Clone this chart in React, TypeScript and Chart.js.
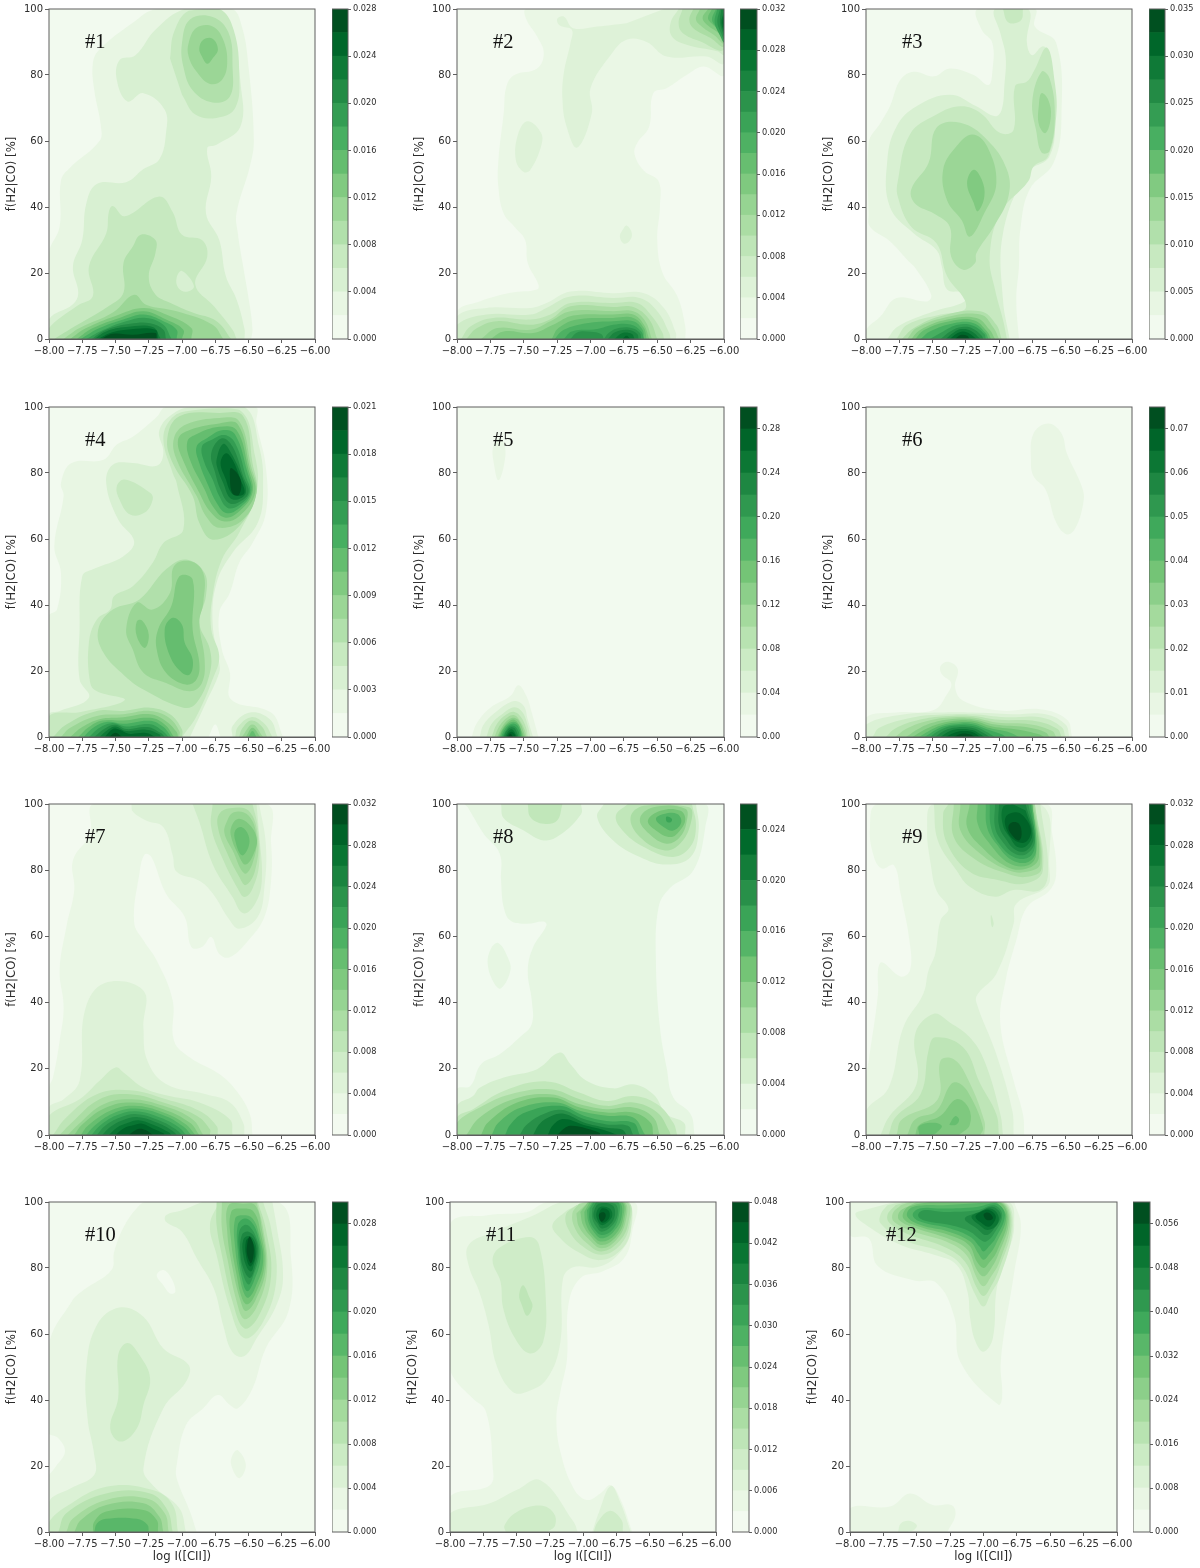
import React, { useEffect, useRef } from "react";
import { Chart, LineController, LineElement, PointElement, LinearScale, CategoryScale, BarController, BarElement } from "chart.js";

Chart.register(LineController, LineElement, PointElement, LinearScale, CategoryScale, BarController, BarElement);

const xTicks = [-8, -7.75, -7.5, -7.25, -7, -6.75, -6.5, -6.25, -6];
const yTicks = [0, 20, 40, 60, 80, 100];
const panelTitles = ["#1", "#2", "#3", "#4", "#5", "#6", "#7", "#8", "#9", "#10", "#11", "#12"];
const topLevels = [0.028, 0.032, 0.035, 0.021, 0.3, 0.075, 0.032, 0.026, 0.032, 0.03, 0.048, 0.06];
const bandCounts = [14, 16, 14, 14, 15, 15, 16, 13, 16, 15, 16, 15];
const barTicks = [
  [0, 0.004, 0.008, 0.012, 0.016, 0.02, 0.024, 0.028],
  [0, 0.004, 0.008, 0.012, 0.016, 0.02, 0.024, 0.028, 0.032],
  [0, 0.005, 0.01, 0.015, 0.02, 0.025, 0.03, 0.035],
  [0, 0.003, 0.006, 0.009, 0.012, 0.015, 0.018, 0.021],
  [0, 0.04, 0.08, 0.12, 0.16, 0.2, 0.24, 0.28],
  [0, 0.01, 0.02, 0.03, 0.04, 0.05, 0.06, 0.07],
  [0, 0.004, 0.008, 0.012, 0.016, 0.02, 0.024, 0.028, 0.032],
  [0, 0.004, 0.008, 0.012, 0.016, 0.02, 0.024],
  [0, 0.004, 0.008, 0.012, 0.016, 0.02, 0.024, 0.028, 0.032],
  [0, 0.004, 0.008, 0.012, 0.016, 0.02, 0.024, 0.028],
  [0, 0.006, 0.012, 0.018, 0.024, 0.03, 0.036, 0.042, 0.048],
  [0, 0.008, 0.016, 0.024, 0.032, 0.04, 0.048, 0.056],
];
const barDecimals = [3, 3, 3, 3, 2, 2, 3, 3, 3, 3, 3, 3];
const greens = ["#f7fcf5", "#e5f5e0", "#c7e9c0", "#a1d99b", "#74c476", "#41ab5d", "#238b45", "#006d2c", "#00441b"];

// Each contour: [band, x, y, x, y, ...]; x in log I, y in %. Later entries paint over earlier ones.
const contours1 = [
  [1,-8,0,-8,26,-7.92,34,-7.91,48,-7.84,52,-7.62,60,-7.61,64.5,-7.66,75.5,-7.67,83.6,-7.62,87.7,-7.37,95.8,-7.19,100,-6.63,100,-6.55,94.7,-6.5,82.6,-6.46,60.4,-6.49,52.3,-6.59,38.2,-6.58,32,-6.54,22,-6.49,10,-6.47,2.8,-6.48,0],
  [2,-8,0,-8,6,-7.82,10.5,-7.78,14,-7.82,22,-7.75,30,-7.72,41,-7.64,47,-7.42,47.5,-7.29,51.5,-7.17,54.5,-7.12,62.5,-7.13,69.5,-7.29,74.5,-7.41,72,-7.49,78.5,-7.47,84.5,-7.35,86,-7.2,93.7,-6.98,100,-6.72,100,-6.62,92.8,-6.56,77.6,-6.56,64.5,-6.74,58.9,-6.81,57.9,-6.78,49.3,-6.82,38.2,-6.72,30,-6.67,19,-6.59,12,-6.53,3,-6.53,0],
  [3,-8,0,-8,3.3,-7.79,10,-7.67,13,-7.7,22,-7.57,32,-7.55,38.5,-7.52,40.3,-7.43,37.2,-7.17,43.2,-7.07,38.5,-7,31.6,-6.85,30,-6.81,25,-6.9,16.5,-6.76,9.9,-6.62,2.8,-6.59,0],
  [2,-7,20.6,-6.91,16,-6.97,14.3,-7.03,15.6,-7.04,18.6],
  [3,-7.09,85,-7.06,93,-6.95,99.5,-6.72,100,-6.61,93.5,-6.57,80,-6.6,70,-6.74,67,-6.9,68,-7,74],
  [4,-7,89.7,-6.94,96.8,-6.77,97.6,-6.65,92.8,-6.62,82.6,-6.64,73.5,-6.77,71.7,-6.92,75.4,-6.99,82.6],
  [4,-7.96,0,-7.84,3,-7.55,10,-7.44,14,-7.44,23,-7.37,28,-7.31,31.6,-7.2,30,-7.2,26,-7.25,19,-7.2,13.5,-7.09,11,-6.92,8,-6.74,5.4,-6.63,0],
  [5,-6.95,89.7,-6.89,94.3,-6.77,94.7,-6.69,90.7,-6.66,83.6,-6.7,78.5,-6.79,77.3,-6.89,81,-6.95,85.6],
  [5,-7.89,0,-7.77,3.3,-7.52,8,-7.36,13.4,-7.27,10.4,-7.04,8.4,-6.77,4.3,-6.69,0],
  [6,-6.87,88,-6.84,90.7,-6.77,91,-6.73,87.7,-6.77,85,-6.81,83.4,-6.85,85.6],
  [6,-7.84,0,-7.72,3.3,-7.5,7,-7.29,9.4,-7.12,7.4,-6.93,3.3,-6.93,0],
  [7,-7.79,0,-7.67,3.3,-7.47,6.4,-7.29,8.4,-7.12,5.9,-6.99,2.8,-7,0],
  [8,-7.76,0,-7.62,3.3,-7.44,5.9,-7.29,7.4,-7.14,5.4,-7.04,2.8,-7.04,0],
  [9,-7.72,0,-7.59,2.8,-7.42,5.4,-7.27,6.4,-7.14,4.3,-7.08,0],
  [10,-7.68,0,-7.57,2.8,-7.39,4.6,-7.24,4.8,-7.14,2.8,-7.12,0],
  [11,-7.66,0,-7.57,2.3,-7.42,3.6,-7.22,3.6,-7.16,0],
  [12,-7.63,0,-7.54,1.8,-7.42,2.8,-7.2,2.8,-7.18,0],
  [13,-7.61,0,-7.52,1.6,-7.37,1.3,-7.2,1.8,-7.19,0],
];
const contours2 = [
  [1,-8,0,-8,8.4,-7.83,11.4,-7.6,14,-7.4,15,-7.39,16.5,-7.47,23,-7.49,30,-7.57,34,-7.65,38,-7.69,46,-7.69,54,-7.65,68.5,-7.63,76.5,-7.57,80,-7.4,82,-7.35,86.7,-7.4,91.7,-7.48,96.8,-7.48,100,-6,100,-6,80,-6.15,82.6,-6.28,80,-6.43,76,-6.53,74.5,-6.56,64.4,-6.65,59.4,-6.67,56,-6.6,51,-6.49,47.8,-6.48,40,-6.5,30,-6.46,20,-6.35,13,-6.29,3.8,-6.29,0],
  [2,-6.45,100,-6,100,-6,83.6,-6.13,85.6,-6.43,85.6,-6.58,90,-6.73,90.7,-6.85,86,-7,76,-6.99,68.5,-7.1,58,-7.18,64.5,-7.21,72.5,-7.2,80.6,-7.15,89.7,-7.14,93.7,-7.23,95,-7.25,97,-7.2,97.7,-7.13,94.2,-6.95,94.7,-6.73,95.7],
  [2,-7.47,66,-7.37,62.4,-7.37,58.4,-7.45,51.3,-7.5,50.6,-7.56,54.3,-7.54,62.4],
  [2,-6.73,34.4,-6.69,32,-6.71,29.6,-6.75,28.9,-6.78,31,-6.76,33],
  [2,-8,0,-8,6.9,-7.78,9.4,-7.45,9.4,-7.33,10.9,-7.15,14.4,-6.83,13.9,-6.6,13.9,-6.45,9.4,-6.36,1.8,-6.36,0],
  [3,-8,0,-8,4.3,-7.78,7.4,-7.45,7.4,-7.33,9.4,-7.15,12.9,-6.83,12.4,-6.63,12.4,-6.5,8.4,-6.41,1.8,-6.4,0],
  [3,-6.34,100,-6.4,95.8,-6.39,91.7,-6.28,89.2,-6.05,87.2,-6,86.2,-6,100],
  [4,-6.31,100,-6.34,95.8,-6.31,92.7,-6.18,90.2,-6,87.7,-6,100],
  [5,-6.23,100,-6.26,96.8,-6.23,94.2,-6.1,91.2,-6,88.7,-6,100],
  [6,-6.18,100,-6.21,96.8,-6.16,94.5,-6.07,92,-6,89.7,-6,100],
  [7,-6.12,100,-6.16,97.3,-6.12,95,-6.04,92.7,-6,90.7,-6,100],
  [8,-6.09,100,-6.12,97.3,-6.09,95.5,-6.03,93.2,-6,91.7,-6,100],
  [9,-6.06,100,-6.09,96.8,-6.06,94.7,-6,92.7,-6,100],
  [10,-6.05,100,-6.07,96,-6.03,92,-6,90,-6,100],
  [11,-6.03,100,-6.05,96,-6.02,92.5,-6,91,-6,100],
  [12,-6.02,100,-6.03,96,-6.01,93,-6,92,-6,100],
  [13,-6,99,-6.02,96,-6,93],
  [14,-6,98,-6.01,96,-6,94],
  [4,-7.97,0,-7.9,3.8,-7.73,6.4,-7.45,5.9,-7.3,7.4,-7.15,10.9,-6.83,10.9,-6.65,10.9,-6.54,6.9,-6.46,1.8,-6.45,0],
  [5,-7.93,0,-7.85,3.3,-7.7,5.4,-7.45,4.3,-7.3,6,-7.15,9.9,-6.83,9.7,-6.68,9.7,-6.56,5.9,-6.5,0],
  [6,-7.82,0,-7.7,3.3,-7.45,2.8,-7.3,5.4,-7.15,8.4,-6.83,8.4,-6.68,8.4,-6.59,5.4,-6.54,0],
  [7,-7.75,0,-7.65,2.3,-7.43,1.8,-7.28,4.3,-7.13,7.1,-6.83,7.4,-6.68,7.4,-6.6,4.3,-6.56,0],
  [8,-7.29,0,-7.24,3.3,-7.1,5.9,-6.83,6.4,-6.68,6.4,-6.6,3.3,-6.58,0],
  [9,-7.27,0,-7.2,2.8,-7.03,4.8,-6.83,5.4,-6.68,5.4,-6.61,2.8,-6.6,0],
  [10,-7.2,0,-7.14,2.3,-6.95,3,-6.83,4.3,-6.7,4.4,-6.62,2.3,-6.6,0],
  [11,-6.9,0,-6.86,2,-6.78,3.4,-6.68,3.2,-6.63,1.8,-6.62,0],
  [11,-7.15,0,-7.1,2,-7,2.2,-6.92,1.5,-6.9,0],
  [12,-6.87,0,-6.82,2,-6.72,2.8,-6.65,1.5,-6.64,0],
  [13,-6.82,0,-6.76,1.8,-6.69,1.5,-6.67,0],
  [14,-6.76,0,-6.73,1,-6.7,0],
];
const contours3 = [
  [1,-8,0,-8,2.8,-7.89,6.9,-7.77,12.4,-7.54,11.4,-7.51,13.4,-7.62,21,-7.69,24,-7.82,29.6,-7.97,34,-7.98,38,-7.98,59.4,-7.89,65.5,-7.82,70.5,-7.74,78.6,-7.64,81,-7.49,79.6,-7.37,82,-7.19,80,-7.08,77,-7.05,81,-7.05,89.7,-7.13,93.7,-7.16,100,-6.73,100,-6.73,94.7,-6.57,89.7,-6.53,67.5,-6.59,53.3,-6.77,45.3,-6.84,33,-6.85,22,-6.87,12,-6.85,0],
  [2,-7.84,0,-7.76,3.8,-7.49,8.4,-7.26,11.4,-7.27,14,-7.39,15,-7.43,22,-7.47,27,-7.64,32,-7.82,40,-7.84,54,-7.77,64.4,-7.62,70.5,-7.37,74,-7.17,70.5,-7.03,67.5,-6.98,69.5,-6.96,76.6,-6.95,85.6,-6.99,92.7,-7.03,100,-6.78,100,-6.79,89.7,-6.75,86,-6.67,88.7,-6.62,86,-6.58,67.5,-6.62,55.4,-6.79,50.3,-6.97,32,-6.97,12,-6.92,0],
  [3,-7.77,0,-7.69,4.3,-7.44,7.4,-7.26,8.9,-7.26,12,-7.39,19,-7.47,29,-7.66,34,-7.76,43,-7.76,48,-7.67,62,-7.47,68,-7.29,70.5,-7.14,68.5,-6.99,62.4,-6.89,63.4,-6.88,76.5,-6.79,78,-6.74,81,-6.64,88.3,-6.58,77.6,-6.57,67.5,-6.63,55.4,-6.74,52.3,-6.78,47.8,-6.99,38.2,-7.07,25,-7.03,15,-6.97,5.8,-6.94,0],
  [3,-6.97,100,-6.94,96.3,-6.89,95.6,-6.83,96.8,-6.82,100],
  [4,-7.66,45.3,-7.53,53.3,-7.47,64,-7.29,65.5,-7.09,60.4,-6.94,51.3,-6.93,43,-7.04,34,-7.17,26,-7.18,23,-7.27,21,-7.36,25,-7.37,34,-7.49,38,-7.63,41],
  [4,-6.68,81,-6.62,79,-6.58,68,-6.62,57,-6.68,56.5,-6.72,63,-6.75,72],
  [4,-7.73,0,-7.64,3.3,-7.44,6.9,-7.14,8.4,-7.02,4.3,-6.98,0],
  [5,-7.42,51.3,-7.32,58.4,-7.2,62,-7.09,58.4,-7.02,47.3,-7.11,38.2,-7.22,31,-7.28,36,-7.39,42],
  [5,-6.68,74.5,-6.63,72.5,-6.61,67.5,-6.65,62.4,-6.7,65,-6.7,71],
  [6,-7.19,51.3,-7.13,48.3,-7.11,43.2,-7.16,38.7,-7.19,41.2,-7.24,47.3],
  [5,-7.69,0,-7.62,3.3,-7.42,6.4,-7.14,7.4,-7.04,3.3,-7,0],
  [6,-7.66,0,-7.59,2.8,-7.39,5.9,-7.17,6.4,-7.07,2.8,-7.03,0],
  [7,-7.63,0,-7.56,2.8,-7.37,5.4,-7.19,5.7,-7.09,2.3,-7.06,0],
  [8,-7.59,0,-7.52,2.3,-7.34,4.8,-7.19,4.8,-7.1,1.8,-7.08,0],
  [9,-7.52,0,-7.42,2.3,-7.31,4.3,-7.2,4.1,-7.11,1.5,-7.1,0],
  [10,-7.44,0,-7.36,2.4,-7.28,3.6,-7.2,3.2,-7.13,1,-7.12,0],
  [11,-7.4,0,-7.34,2,-7.28,3,-7.21,2.4,-7.14,0],
  [12,-7.37,0,-7.32,1.6,-7.27,2.3,-7.22,1.6,-7.17,0],
  [13,-7.33,0,-7.29,1.2,-7.24,1,-7.22,0],
];
const contours4 = [
  [1,-8,0,-8,36.6,-7.94,38.6,-7.91,49.7,-7.96,57.8,-7.89,73,-7.91,77,-7.83,83,-7.59,84,-7.49,88.6,-7.37,91,-7.19,97,-7.12,100,-6.45,100,-6.44,95,-6.37,82,-6.37,67.9,-6.47,58.8,-6.57,52.8,-6.64,43.7,-6.72,37.6,-6.7,26.5,-6.64,19.5,-6.63,11.4,-6.33,7.4,-6.24,0],
  [0,-6.8,0,-6.75,3.8,-6.71,0],
  [2,-8,0,-8,6.9,-7.92,7.9,-7.7,11.9,-7.77,17.5,-7.77,32.6,-7.75,48.7,-7.67,50.8,-7.44,54.8,-7.36,59.3,-7.48,65.9,-7.57,77,-7.52,82.5,-7.37,83,-7.19,82.2,-7.14,86,-7.17,93,-7.04,98.7,-6.89,100,-6.53,100,-6.42,88,-6.39,77,-6.43,64.9,-6.62,55.8,-6.74,46.7,-6.77,34.6,-6.72,22.5,-6.72,19.5,-6.82,10.4,-6.94,0],
  [2,-6.62,0,-6.62,3.3,-6.49,7.4,-6.34,5.4,-6.28,0],
  [3,-7.49,76,-7.43,78,-7.24,74,-7.22,72,-7.28,68,-7.39,67.4,-7.47,72],
  [3,-8,0,-8,6.4,-7.76,7.6,-7.43,11.2,-7.64,13.9,-7.69,16.4,-7.7,28.6,-7.64,35.6,-7.54,38.6,-7.51,42.7,-7.37,45.7,-7.22,52.8,-7.14,58.8,-6.99,62.9,-7.04,77,-7.07,80,-7.14,90,-7.09,96,-6.97,98.7,-6.57,99.2,-6.45,85,-6.44,74,-6.57,61.9,-6.7,53.8,-6.77,42.7,-6.78,32.6,-6.72,24.5,-6.77,17.5,-6.89,6.4,-7,0],
  [3,-6.6,0,-6.58,3,-6.48,6,-6.38,4,-6.32,0],
  [4,-7.63,32.6,-7.52,38.6,-7.32,41.7,-7.12,50.8,-6.97,53.8,-6.83,49.7,-6.82,42.7,-6.87,34.6,-6.79,26.5,-6.79,19.5,-6.89,10.4,-6.99,8.9,-7.29,14.4,-7.43,18.5,-7.59,25.5],
  [4,-7.11,90.6,-7.02,97.2,-6.72,98.2,-6.54,97.2,-6.47,83,-6.44,74,-6.57,63.9,-6.77,59.8,-6.87,64.9,-6.92,73,-7.07,83],
  [5,-7.42,32.6,-7.34,40.7,-7.22,38.6,-7.09,43.7,-7.06,51.8,-6.94,53.3,-6.84,49.7,-6.84,40.7,-6.87,34.6,-6.83,23.5,-6.85,16.4,-6.94,13.9,-7.12,16.4,-7.29,19.5,-7.37,26.5],
  [6,-7.18,32.6,-7.08,39.7,-7.02,48.7,-6.92,47.7,-6.92,32.6,-6.87,22.5,-6.89,17.5,-6.97,15.9,-7.12,19.5,-7.19,26.5],
  [6,-7.34,35,-7.3,35.3,-7.25,31,-7.28,27,-7.34,30.5],
  [7,-7.13,32.6,-7.07,36.1,-7,34,-6.98,28.6,-6.92,23.5,-6.94,19,-7,19.5,-7.09,24.5],
  [5,-7.06,90.6,-6.97,94.7,-6.72,96.7,-6.57,95.7,-6.48,82,-6.44,74,-6.54,65.9,-6.72,63.4,-6.82,66.9,-6.89,73,-7.04,84],
  [6,-7.03,90,-6.97,92.6,-6.72,95,-6.58,94.7,-6.49,81.5,-6.45,74,-6.57,66.9,-6.69,65.4,-6.79,68.4,-6.87,74,-7,84.6],
  [7,-6.96,89.5,-6.9,91.6,-6.72,94,-6.59,93,-6.5,81,-6.47,74,-6.58,68,-6.68,66.5,-6.77,70,-6.83,75,-6.94,84],
  [8,-6.89,88,-6.81,90.6,-6.69,93,-6.6,91.6,-6.51,80.5,-6.48,74,-6.58,69,-6.67,67.9,-6.74,71,-6.8,76,-6.87,83],
  [9,-6.85,88,-6.78,90,-6.68,91.5,-6.6,89,-6.52,79,-6.49,74,-6.58,70,-6.66,69.5,-6.72,73,-6.77,78,-6.83,83],
  [10,-6.78,86,-6.7,90.5,-6.62,88,-6.54,79,-6.5,74,-6.58,71,-6.65,71,-6.71,75,-6.75,80],
  [11,-6.74,84,-6.69,88.8,-6.63,86,-6.55,79,-6.52,74,-6.58,72,-6.64,72.5,-6.69,77,-6.73,81],
  [12,-6.71,83,-6.67,86,-6.62,84,-6.56,78,-6.53,74,-6.58,73,-6.63,74,-6.67,78],
  [13,-6.63,81.5,-6.56,78,-6.57,73.5,-6.62,73.8,-6.64,79],
  [4,-7.97,0,-7.87,3.8,-7.64,7.9,-7.44,7.9,-7.24,8.9,-7.09,6.9,-7,2.3,-7,0],
  [5,-7.91,0,-7.84,2.8,-7.64,6.4,-7.44,6.9,-7.24,7.9,-7.1,5.9,-7.02,1.8,-7.02,0],
  [6,-7.84,0,-7.75,3,-7.62,5.4,-7.44,6,-7.24,6.9,-7.12,4.8,-7.04,1.5,-7.03,0],
  [7,-7.78,0,-7.7,3,-7.6,5,-7.44,5,-7.24,5.8,-7.13,3.8,-7.06,0],
  [8,-7.74,0,-7.66,3,-7.56,4.6,-7.44,4,-7.24,4.9,-7.14,3,-7.08,0],
  [9,-7.7,0,-7.62,2.8,-7.53,4.2,-7.42,3.2,-7.24,3.9,-7.15,2,-7.1,0],
  [10,-7.66,0,-7.58,2.6,-7.5,3.7,-7.42,2.4,-7.26,3,-7.16,1.2,-7.13,0],
  [11,-7.62,0,-7.55,2.4,-7.5,3.2,-7.42,1.8,-7.27,2.2,-7.17,0.8,-7.16,0],
  [12,-7.58,0,-7.52,2.4,-7.47,2.2,-7.4,1,-7.27,1.2,-7.2,0],
  [13,-7.55,0,-7.5,1.3,-7.45,0],
  [4,-6.57,0,-6.55,2.4,-6.48,5,-6.4,3.2,-6.36,0],
  [5,-6.55,0,-6.47,3.8,-6.39,0],
  [6,-6.52,0,-6.47,2.8,-6.41,0],
  [7,-6.5,0,-6.47,1.8,-6.44,0],
];
const contours5 = [
  [1,-7.73,88,-7.72,82,-7.69,77.8,-7.65,82,-7.64,88,-7.68,90.5],
  [1,-7.89,0,-7.85,4.3,-7.75,8.9,-7.6,12.4,-7.54,15.7,-7.48,12.4,-7.44,7.4,-7.39,0],
  [2,-7.83,0,-7.8,3.8,-7.7,7.9,-7.57,10.9,-7.5,9.4,-7.47,5.3,-7.43,0],
  [3,-7.78,0,-7.74,4,-7.66,7,-7.57,9,-7.51,7.5,-7.47,3.5,-7.45,0],
  [4,-7.74,0,-7.7,4,-7.63,6.8,-7.57,7.6,-7.52,6,-7.48,2.5,-7.47,0],
  [5,-7.72,0,-7.68,3.5,-7.62,6,-7.57,6.6,-7.53,5,-7.49,1.8,-7.48,0],
  [6,-7.7,0,-7.66,3.2,-7.61,5.4,-7.57,5.8,-7.53,4.5,-7.5,1.5,-7.49,0],
  [7,-7.69,0,-7.65,3,-7.6,5,-7.57,5.2,-7.54,4,-7.51,1.2,-7.5,0],
  [8,-7.68,0,-7.65,2.6,-7.6,4.4,-7.56,4.5,-7.53,3,-7.51,0],
  [9,-7.67,0,-7.64,2.4,-7.6,3.9,-7.56,3.9,-7.53,2.2,-7.52,0],
  [10,-7.66,0,-7.63,2.2,-7.6,3.4,-7.57,3.3,-7.54,1.8,-7.53,0],
  [11,-7.65,0,-7.63,1.8,-7.6,2.9,-7.57,2.7,-7.55,1.2,-7.54,0],
  [12,-7.64,0,-7.62,1.5,-7.6,2.3,-7.58,2.1,-7.56,0.8,-7.55,0],
  [13,-7.63,0,-7.61,1.3,-7.59,1.6,-7.57,1,-7.56,0],
  [14,-7.62,0,-7.6,1,-7.58,0],
];
const contours6 = [
  [1,-6.63,95,-6.53,92,-6.49,86,-6.37,75,-6.37,70,-6.43,63,-6.49,61.4,-6.57,65,-6.65,75,-6.74,79,-6.76,84,-6.74,92],
  [1,-8,0,-8,5.9,-7.77,7.4,-7.49,8.2,-7.39,13,-7.36,16.4,-7.43,19,-7.44,21.5,-7.38,22.8,-7.31,20.5,-7.33,15,-7.27,11,-6.99,8,-6.69,8.4,-6.49,5.3,-6.45,0],
  [2,-8,0,-8,3.8,-7.72,6.8,-7.44,7.4,-7.2,7.4,-6.9,6.9,-6.65,6.9,-6.5,3.8,-6.47,0],
  [3,-7.95,0,-7.9,2.8,-7.65,5.9,-7.42,6.8,-7.2,6.9,-6.95,6,-6.68,5.9,-6.53,3,-6.5,0],
  [4,-7.85,0,-7.78,2.6,-7.6,5.2,-7.41,6.3,-7.2,6.4,-7,5.2,-6.72,4.8,-6.56,2.4,-6.53,0],
  [5,-7.78,0,-7.7,2.4,-7.56,4.6,-7.4,5.8,-7.2,5.9,-7.02,4.4,-6.76,3.8,-6.6,1.8,-6.57,0],
  [6,-7.7,0,-7.6,2.6,-7.5,4.3,-7.38,5.3,-7.2,5.4,-7.03,3.8,-6.8,3,-6.65,1.4,-6.62,0],
  [7,-7.65,0,-7.55,2.4,-7.45,4,-7.36,4.8,-7.2,4.9,-7.05,3.2,-6.85,2.2,-6.7,0.8,-6.66,0],
  [8,-7.6,0,-7.5,2.4,-7.42,3.7,-7.34,4.3,-7.2,4.4,-7.07,2.7,-6.92,1.4,-6.85,0],
  [9,-7.56,0,-7.47,2.3,-7.4,3.4,-7.32,3.9,-7.2,3.9,-7.08,2.2,-6.98,0.8,-6.95,0],
  [10,-7.52,0,-7.44,2.2,-7.34,3.4,-7.2,3.3,-7.1,1.7,-7.03,0],
  [11,-7.48,0,-7.41,2,-7.32,2.9,-7.2,2.7,-7.12,1.3,-7.07,0],
  [12,-7.44,0,-7.38,1.6,-7.3,2.4,-7.2,2.1,-7.14,0.8,-7.11,0],
  [13,-7.4,0,-7.34,1.2,-7.28,1.8,-7.2,1.5,-7.14,0],
  [14,-7.34,0,-7.28,1,-7.22,0.8,-7.18,0],
];
const contours7 = [
  [1,-8,0,-8,14.3,-7.97,17.4,-7.92,28.5,-7.89,38.6,-7.92,49.7,-7.87,62.8,-7.81,74,-7.82,83,-7.69,91,-7.66,100,-6.37,100,-6.33,88,-6.33,77,-6.38,65.9,-6.5,58.8,-6.64,53.7,-6.72,54.7,-6.78,59.8,-6.85,56.8,-6.93,56.8,-6.98,65.9,-7.12,72.9,-7.23,84,-7.28,84.8,-7.32,79,-7.36,64.3,-7.29,58.8,-7.19,52.7,-7.07,40.6,-7.06,28.5,-6.94,23.4,-6.72,18.4,-6.59,13.3,-6.49,6.3,-6.47,0],
  [2,-7.38,100,-7.37,97.7,-7.27,95,-7.14,93,-7.07,84.5,-7.04,79.5,-6.87,76.8,-6.77,73,-6.65,65.4,-6.57,62.3,-6.43,65.9,-6.38,75,-6.37,88,-6.42,100],
  [2,-8,0,-8,8.3,-7.89,10.8,-7.77,16.4,-7.73,37.6,-7.58,45.9,-7.29,43.6,-7.29,32.5,-7.26,22.4,-7.12,15.4,-6.82,12.3,-6.64,9.8,-6.54,3.7,-6.53,0],
  [3,-8,0,-8,5.8,-7.77,10.8,-7.62,16.4,-7.5,20.4,-7.44,18.9,-7.29,14.3,-7.12,12,-6.87,9.8,-6.64,4.7,-6.62,0],
  [3,-6.92,100,-6.87,94.6,-6.77,81.9,-6.62,71.9,-6.54,67,-6.45,69.9,-6.4,77,-6.42,91,-6.44,100],
  [4,-6.77,100,-6.78,93,-6.7,84,-6.58,74.4,-6.53,71.9,-6.47,74.4,-6.42,82,-6.43,93,-6.47,100],
  [4,-7.97,0,-7.87,5.3,-7.64,12.3,-7.39,13.5,-7.12,10.8,-6.87,7.3,-6.74,2.7,-6.73,0],
  [5,-6.72,97,-6.73,93,-6.67,86,-6.57,78,-6.52,75.5,-6.45,80,-6.43,90,-6.5,98,-6.64,98.7],
  [5,-7.92,0,-7.83,3.7,-7.62,10.8,-7.39,12.3,-7.14,9.8,-6.89,5.8,-6.79,1.7,-6.79,0],
  [6,-6.67,94,-6.68,91,-6.62,86,-6.53,79,-6.47,82,-6.44,90,-6.5,96.5,-6.61,97.5],
  [6,-7.86,0,-7.78,3.2,-7.59,9.3,-7.38,10.8,-7.14,8.8,-6.92,4.7,-6.84,0],
  [7,-6.63,93,-6.63,90,-6.58,85,-6.52,81.7,-6.45,86,-6.44,90,-6.5,94,-6.58,95.5],
  [7,-7.81,0,-7.75,3.2,-7.57,8.3,-7.37,9.8,-7.14,7.8,-6.94,3.7,-6.87,0],
  [8,-6.6,92,-6.6,89,-6.55,84.5,-6.5,87,-6.5,90.5,-6.55,93],
  [8,-7.76,0,-7.71,2.7,-7.54,7.3,-7.36,8.8,-7.14,6.8,-6.97,3.2,-6.9,0],
  [9,-7.72,0,-7.66,2.7,-7.52,6.5,-7.35,8,-7.14,6,-6.99,2.6,-6.93,0],
  [10,-7.68,0,-7.62,2.7,-7.5,5.8,-7.35,7.2,-7.16,5.2,-7.02,2.2,-6.97,0],
  [11,-7.64,0,-7.58,2.7,-7.47,5.2,-7.34,6.3,-7.17,4.4,-7.05,1.8,-7,0],
  [12,-7.6,0,-7.54,2.4,-7.45,4.4,-7.33,5.4,-7.18,3.6,-7.07,1.2,-7.04,0],
  [13,-7.55,0,-7.49,2.2,-7.41,3.6,-7.32,4.4,-7.2,2.8,-7.1,0.8,-7.08,0],
  [14,-7.5,0,-7.44,2,-7.36,3,-7.3,3.4,-7.22,2,-7.14,0.5,-7.13,0],
  [15,-7.4,0,-7.36,1.2,-7.32,1.9,-7.27,1.4,-7.22,0],
];
const contours8 = [
  [1,-8,0,-8,13.8,-7.9,14.8,-7.82,21.4,-7.68,24.4,-7.53,29.5,-7.44,33.5,-7.44,40.6,-7.47,49.6,-7.43,56.7,-7.33,63.3,-7.35,64.5,-7.48,63.8,-7.6,64.8,-7.65,68.8,-7.67,76.9,-7.68,85,-7.8,91,-7.92,99,-7.94,100,-6.15,100,-6.14,93,-6.23,79.9,-6.41,74.4,-6.49,68.8,-6.51,52.7,-6.48,32.5,-6.43,20.4,-6.38,11.3,-6.25,6.3,-6.22,0],
  [1,-7.69,58,-7.62,53.7,-7.6,49.7,-7.67,44.3,-7.72,45.7,-7.77,51.7,-7.74,56.7],
  [2,-7.67,100,-7.65,95.7,-7.5,92,-7.35,89,-7.23,90.6,-7.07,97,-7.07,100],
  [2,-6.9,100,-6.95,96,-6.83,89,-6.63,84,-6.43,81.7,-6.25,84,-6.19,92,-6.21,100],
  [2,-8,0,-8,8.8,-7.88,11.8,-7.83,14.3,-7.65,17.4,-7.4,19.9,-7.23,24.9,-7.15,21.4,-7.03,16.4,-6.83,14.1,-6.68,15.3,-6.53,12.3,-6.43,6.3,-6.3,3.7,-6.29,0],
  [3,-7.47,100,-7.45,96,-7.35,94,-7.25,95,-7.21,100],
  [3,-6.72,100,-6.81,96.5,-6.76,92,-6.6,87,-6.38,84,-6.25,87.2,-6.21,93.4,-6.24,100],
  [3,-8,0,-8,5.3,-7.88,7.8,-7.65,13.3,-7.33,16.2,-7.08,12.8,-6.88,10.3,-6.68,11.8,-6.5,9.3,-6.38,3.7,-6.35,0],
  [4,-6.7,96,-6.63,90,-6.45,86,-6.33,88,-6.25,94,-6.26,99,-6.6,99.5],
  [4,-8,0,-8,3.7,-7.83,8.3,-7.6,12.3,-7.3,13.8,-7.08,10.8,-6.88,8.8,-6.68,9.8,-6.5,6.8,-6.41,1.2,-6.4,0],
  [5,-6.63,95.5,-6.56,91,-6.43,88,-6.33,90,-6.28,94.6,-6.29,98.6,-6.53,99],
  [5,-7.93,0,-7.83,5.3,-7.58,10.8,-7.3,12.3,-7.08,9.3,-6.88,7.8,-6.68,8.3,-6.53,5.3,-6.48,0],
  [6,-6.57,95,-6.51,92,-6.4,90,-6.33,92,-6.29,95.5,-6.33,98,-6.47,98],
  [6,-7.82,0,-7.77,3.7,-7.55,9.8,-7.28,11.3,-7.08,8.3,-6.88,6.8,-6.68,6.8,-6.55,3.7,-6.53,0],
  [7,-6.51,95.5,-6.45,93,-6.38,92,-6.32,94.5,-6.35,97,-6.45,97],
  [7,-7.74,0,-7.69,3.7,-7.52,8.3,-7.25,9.8,-7.08,7.3,-6.88,5.8,-6.68,5.3,-6.59,0],
  [8,-6.43,96.2,-6.39,95.5,-6.4,94.5,-6.43,94.7],
  [8,-7.64,0,-7.6,3.2,-7.49,6.8,-7.23,8.8,-7.05,5.8,-6.88,4.2,-6.68,3.7,-6.63,0],
  [9,-7.53,0,-7.48,3,-7.36,6.2,-7.22,7.6,-7.05,4.8,-6.88,3.2,-6.72,2.8,-6.68,0],
  [10,-7.43,0,-7.38,3.4,-7.3,5.6,-7.2,6.4,-7.05,3.8,-6.88,2.2,-6.76,1.6,-6.73,0],
  [11,-7.32,0,-7.28,3,-7.2,4.8,-7.05,3,-6.9,1.5,-6.8,0],
  [12,-7.25,0,-7.2,1.9,-7.15,2.8,-7.03,2,-6.93,0.6,-6.93,0],
];
const contours9 = [
  [1,-8,0,-8,17,-7.98,22.4,-7.91,42.6,-7.91,49.7,-7.88,52.2,-7.74,47.9,-7.67,49.7,-7.67,57.8,-7.74,72.9,-7.79,81.5,-7.88,80.5,-7.94,84,-7.97,93,-7.91,100,-6.65,100,-6.6,91,-6.57,79,-6.62,73.9,-6.79,68.8,-6.87,58.8,-6.95,46.7,-6.99,33.5,-6.89,16.4,-6.82,6.3,-6.81,0],
  [2,-8,0,-8,7.3,-7.83,14.3,-7.72,32.5,-7.57,42.6,-7.53,49.7,-7.48,54.7,-7.44,64.8,-7.38,68.4,-7.47,73.9,-7.51,81,-7.54,93,-7.49,100,-6.69,100,-6.62,80,-6.64,75,-6.87,69.9,-6.89,63.8,-7.02,48.7,-7.16,42.6,-7.17,40,-7.02,24.4,-6.9,7.3,-6.89,0],
  [3,-7.49,100,-7.46,89,-7.32,80,-7.22,75,-7.03,72,-6.89,74,-6.69,74,-6.63,80,-6.69,100],
  [3,-7.06,66.5,-7.04,64,-7.05,62.8,-7.06,64],
  [3,-7.89,0,-7.83,5.3,-7.62,15.4,-7.63,30.5,-7.49,36.6,-7.37,34,-7.22,29.5,-7.11,22.4,-6.99,6.3,-6.97,0],
  [4,-7.83,0,-7.78,5.3,-7.59,12.3,-7.53,25.5,-7.48,29.5,-7.27,26.5,-7.14,15.4,-7.02,6.3,-7,0],
  [4,-7.38,100,-7.42,97,-7.39,88,-7.22,79.5,-7,77,-6.8,76,-6.67,80,-6.73,100],
  [5,-7.77,0,-7.73,4.7,-7.46,10.8,-7.44,22.4,-7.34,22.9,-7.24,17.4,-7.11,4.2,-7.11,0],
  [5,-7.34,100,-7.34,90,-7.17,83,-6.94,79,-6.79,78,-6.68,80.5,-6.73,100],
  [6,-7.69,0,-7.63,4.7,-7.47,7.3,-7.36,15.4,-7.29,15.4,-7.21,11.3,-7.12,2.2,-7.14,0],
  [6,-7.29,100,-7.29,92,-7.14,85,-6.93,80,-6.79,79.5,-6.69,82,-6.74,100],
  [7,-7.63,0,-7.6,3,-7.44,5.8,-7.32,10.8,-7.23,8.3,-7.22,3,-7.3,0],
  [7,-7.22,100,-7.24,93,-7.13,87,-6.94,81,-6.79,80.5,-6.7,84,-6.75,100],
  [8,-7.6,0,-7.6,2.7,-7.49,3.7,-7.43,2.7,-7.47,0.7,-7.5,0],
  [8,-7.37,3.4,-7.33,5.7,-7.3,4.7,-7.32,3.2,-7.37,3],
  [8,-7.16,100,-7.16,94,-7.07,88,-6.92,82,-6.78,81.5,-6.72,85,-6.75,100],
  [9,-7.1,100,-7.09,93,-7.02,88,-6.9,83,-6.78,82.5,-6.72,86,-6.75,100],
  [10,-7.07,100,-7.06,93,-7,88,-6.89,84,-6.78,83.8,-6.73,87.5,-6.76,100],
  [11,-7.03,100,-7.03,93,-6.98,89,-6.88,85,-6.79,85,-6.73,89,-6.78,100],
  [12,-7,100,-7,93.5,-6.95,89.5,-6.87,86,-6.79,86,-6.74,90,-6.8,100],
  [13,-6.9,100,-6.97,99,-6.97,93.5,-6.92,90,-6.86,87,-6.79,87.5,-6.75,91,-6.8,98],
  [14,-6.95,96,-6.94,92,-6.88,89,-6.8,88.5,-6.76,92,-6.82,96.5,-6.88,97.5],
  [15,-6.93,93,-6.9,90.5,-6.85,89,-6.83,91,-6.85,94,-6.9,94.5],
];
const contours10 = [
  [1,-8,0,-8,56.1,-7.83,69.8,-7.74,73.3,-7.53,79.4,-7.51,84.9,-7.43,93,-7.32,99,-7.27,100,-6.28,100,-6.18,82.9,-6.2,66.8,-6.37,55.7,-6.47,43.5,-6.58,37.5,-6.64,38.5,-6.73,41.5,-6.84,37.5,-6.97,32.4,-7.04,20.3,-7.04,16.3,-6.94,6.2,-6.89,0],
  [0,-8,29.6,-7.93,28.4,-7.88,24.3,-7.95,19.8,-8,17.3],
  [0,-7.14,79.4,-7.08,76.9,-7.05,72.8,-7.09,72.3,-7.14,74.8,-7.19,77.8],
  [1,-6.58,24.8,-6.52,20.3,-6.57,16.3,-6.63,20.3,-6.62,23.3],
  [2,-8,0,-8,9.2,-7.84,13.2,-7.66,17.3,-7.66,23.3,-7.71,34.4,-7.72,49.6,-7.64,62.7,-7.47,68,-7.29,65.2,-7.14,55.6,-6.95,50.6,-6.97,45.5,-7.14,37.5,-7.29,19.3,-7.22,14.2,-7.02,7.2,-6.97,0],
  [2,-6.85,100,-7,97.5,-7.12,96,-7.12,94,-7,91,-6.89,83,-6.76,73.7,-6.69,62.6,-6.62,54.5,-6.53,53.3,-6.44,58.6,-6.29,68.7,-6.24,77.8,-6.29,93,-6.32,100],
  [3,-7.48,53.6,-7.41,57.3,-7.32,53.6,-7.24,46.5,-7.29,38.5,-7.34,31.4,-7.46,27.4,-7.54,31.4,-7.48,40.5],
  [3,-6.72,100,-6.79,93,-6.74,84,-6.64,67.8,-6.53,58.7,-6.39,63.7,-6.29,76.8,-6.33,91.9,-6.39,100],
  [3,-8,0,-8,3,-7.87,7.7,-7.57,13.7,-7.22,12.7,-7.07,8.2,-7.03,0],
  [4,-7.93,0,-7.87,5.7,-7.57,11.7,-7.24,11.7,-7.11,6.7,-7.07,0],
  [4,-6.74,100,-6.74,93,-6.7,83.9,-6.62,69.8,-6.53,61.7,-6.42,65.7,-6.33,77.8,-6.37,91.9,-6.43,100],
  [5,-7.87,0,-7.82,4.1,-7.57,9.7,-7.27,10.2,-7.13,5.7,-7.1,0],
  [5,-6.7,100,-6.7,92,-6.66,83,-6.59,70,-6.53,64.5,-6.44,68,-6.36,79,-6.39,92,-6.44,100],
  [6,-7.81,0,-7.76,3.6,-7.57,8.2,-7.29,8.7,-7.17,4.6,-7.14,0],
  [6,-6.65,99,-6.66,91,-6.62,80,-6.56,70,-6.52,67,-6.45,70,-6.37,80,-6.4,92,-6.45,99,-6.54,99.5],
  [7,-7.67,0,-7.66,3.1,-7.57,6.2,-7.29,6.7,-7.19,3.6,-7.18,0],
  [7,-6.63,97,-6.63,88,-6.59,78,-6.55,71,-6.51,69,-6.45,72,-6.38,81,-6.41,91,-6.46,97,-6.54,98],
  [8,-7.66,0,-7.64,2.6,-7.57,4,-7.34,4,-7.26,2.2,-7.25,0],
  [8,-6.6,95,-6.6,86,-6.56,76,-6.53,72,-6.5,71,-6.45,74,-6.39,82,-6.42,90,-6.47,95,-6.54,96],
  [9,-6.58,93,-6.58,85,-6.55,77,-6.51,73,-6.46,76,-6.41,83,-6.43,90,-6.48,94,-6.53,95],
  [10,-6.57,91,-6.57,85,-6.54,78,-6.5,75,-6.47,77,-6.42,84,-6.44,89,-6.49,92.5,-6.53,93],
  [11,-6.55,90,-6.56,84,-6.53,79,-6.49,77,-6.46,79,-6.43,85,-6.45,89,-6.5,91],
  [12,-6.54,88.5,-6.54,84,-6.51,80,-6.48,79,-6.46,81,-6.44,85,-6.46,88.5,-6.5,89.7],
  [13,-6.52,88,-6.52,84,-6.49,80.5,-6.46,82,-6.45,85,-6.47,88,-6.5,89],
  [14,-6.49,89.5,-6.46,86,-6.48,81.5,-6.51,84,-6.51,87],
];
const contours11 = [
  [1,-8,0,-8,10.7,-7.7,14.2,-7.68,20.3,-7.73,36.5,-7.83,40.5,-7.97,46.6,-8,50.6,-8,93,-7.72,96,-7.42,97,-7.3,99.6,-7.25,100,-6.62,100,-6.63,91,-6.69,83,-6.85,79,-7.02,76.9,-7.11,68.8,-7.12,52.6,-7.17,42.5,-7.2,34.4,-7.17,24.3,-7.07,13.2,-6.97,9.7,-6.87,11.7,-6.79,14.2,-6.71,9.2,-6.63,0],
  [2,-8,0,-8,5.7,-7.7,8.7,-7.5,12.7,-7.32,15.7,-7.07,3,-7.04,0],
  [2,-6.93,0,-6.88,6,-6.79,14,-6.72,9,-6.64,0],
  [3,-7.58,0,-7.59,2,-7.5,6,-7.32,8,-7.22,5.7,-7.21,2,-7.27,0],
  [3,-6.92,0,-6.89,3,-6.8,6.4,-6.71,3.6,-6.7,0],
  [2,-7.17,100,-6.67,100,-6.64,91,-6.74,83.9,-6.89,80.3,-7.07,80.3,-7.15,76.8,-7.17,57.6,-7.27,46.5,-7.42,42.5,-7.53,42.5,-7.65,50.5,-7.71,62.7,-7.78,72.8,-7.86,80.8,-7.86,87,-7.67,91,-7.37,96,-7.23,99],
  [3,-7.68,82.4,-7.62,86.4,-7.4,89.4,-7.33,86.9,-7.28,70.8,-7.3,57.6,-7.4,54.1,-7.51,58.6,-7.6,67.8,-7.62,75.8],
  [4,-7.45,74.8,-7.4,70.8,-7.38,68.3,-7.42,65.5,-7.46,68.8,-7.48,71.8],
  [3,-7,100,-6.67,100,-6.64,92,-6.71,85.7,-6.87,82.4,-7.04,84.9,-7.17,89,-7.23,93,-7.12,97.5],
  [4,-6.97,100,-6.66,100,-6.65,93,-6.72,87,-6.86,84,-7,86.5,-7.1,91,-7.13,96,-7.05,99],
  [5,-6.96,100,-6.67,100,-6.66,93.5,-6.73,88,-6.86,85,-6.97,87.5,-7.06,92,-7.08,96.5,-7.03,99.5],
  [6,-6.96,100,-6.69,100,-6.68,94,-6.75,88.5,-6.86,86,-6.95,88.5,-7.03,92.5,-7.05,96.5],
  [7,-6.96,100,-6.7,100,-6.69,94.5,-6.75,89.5,-6.86,87,-6.94,89.5,-7,93,-7.02,97],
  [8,-6.95,100,-6.71,100,-6.7,95,-6.76,90,-6.86,88,-6.93,90,-6.98,93.5,-6.99,97],
  [9,-6.93,100,-6.73,100,-6.71,95.5,-6.77,91,-6.86,89,-6.92,91,-6.96,94,-6.97,97.5],
  [10,-6.92,100,-6.74,100,-6.73,96,-6.78,91.5,-6.86,90,-6.91,91.5,-6.95,94.5,-6.95,98],
  [11,-6.9,100,-6.76,99.5,-6.74,96,-6.79,92.5,-6.86,91,-6.9,92.5,-6.93,95,-6.93,98],
  [12,-6.88,99.5,-6.78,99,-6.76,96,-6.8,93,-6.86,92,-6.89,93.5,-6.92,95.5,-6.91,98],
  [13,-6.87,98.5,-6.8,98,-6.78,96,-6.81,94,-6.86,93,-6.89,94.5,-6.9,96.5],
  [14,-6.86,98,-6.81,97.5,-6.8,95.5,-6.83,94,-6.86,93.8,-6.88,95.5],
  [15,-6.84,96.8,-6.83,95.5,-6.86,94,-6.88,95.5,-6.875,96.5],
];
const contours12 = [
  [1,-8,100,-8,90,-7.86,89,-7.79,80.5,-7.52,76.2,-7.35,75.4,-7.22,65.4,-7.17,51.3,-6.89,38.6,-6.86,41,-6.87,52,-6.77,78.7,-6.72,92.9,-6.77,100],
  [1,-8,0,-8,7.2,-7.7,7.7,-7.55,11.7,-7.38,8.2,-7.24,8.2,-7.21,5.2,-7.27,0],
  [2,-7.64,0,-7.62,2.6,-7.56,3.4,-7.5,2.1,-7.52,0.6,-7.57,0],
  [2,-7.67,100,-6.82,100,-6.77,93,-6.82,84,-6.9,74,-6.93,58.7,-7,54.6,-7.06,57.7,-7.1,64.8,-7.12,72.8,-7.2,80.9,-7.37,84,-7.62,87,-7.84,92,-7.96,96.3,-7.85,98],
  [3,-7.62,100,-6.85,100,-6.78,93,-6.87,78,-6.95,71.8,-7,68.3,-7.06,71.8,-7.17,81,-7.32,85,-7.6,88.5,-7.77,93.5,-7.77,96.3,-7.72,99],
  [4,-7.58,100,-6.86,100,-6.79,93,-6.88,80,-6.95,74,-7,71.5,-7.05,74,-7.14,82,-7.3,86.5,-7.55,90,-7.7,93.5,-7.72,96,-7.66,99],
  [5,-7.55,100,-6.87,100,-6.8,94,-6.88,82,-6.95,77,-7,74.5,-7.05,77,-7.13,84,-7.28,88,-7.52,91,-7.67,94,-7.68,96.5,-7.62,99],
  [6,-7.5,100,-6.88,100,-6.81,94.5,-6.89,84,-6.95,79.5,-7,77.5,-7.05,79.5,-7.12,85.5,-7.27,89,-7.5,92,-7.63,94.5,-7.63,97,-7.55,99],
  [7,-7.4,100,-6.89,100,-6.82,95,-6.9,85,-6.96,81.5,-7,80,-7.05,82,-7.11,87,-7.26,90,-7.48,92.5,-7.6,95,-7.58,98,-7.5,99.3],
  [8,-6.9,100,-6.83,95.5,-6.91,87,-6.96,84,-7,82.5,-7.04,84.5,-7.1,88,-7.26,91,-7.47,93,-7.57,95.5,-7.55,98,-7.45,99,-7.3,99],
  [9,-7.53,96,-7.47,94,-7.25,92,-7.1,89.5,-7.03,86.5,-7,85,-6.96,86.5,-6.91,89,-6.84,96,-6.9,99.5,-7.05,98.5,-7.3,98,-7.48,98],
  [10,-7.49,96,-7.45,94.5,-7.25,93,-7.1,91,-7.02,88.5,-6.98,88,-6.92,90.5,-6.86,96,-6.92,99,-7.05,97.5,-7.3,97,-7.45,97.5],
  [11,-7.14,95,-7.05,92,-6.98,90,-6.92,92,-6.87,96,-6.93,98.5,-7.03,97],
  [12,-7.09,95.5,-7.03,93,-6.97,91.5,-6.9,93,-6.89,96,-6.95,98,-7.03,97],
  [13,-7.06,95.5,-7.01,93.5,-6.96,92.5,-6.92,94,-6.91,96,-6.96,97.6,-7.02,97],
  [14,-7,96,-6.97,94.5,-6.93,95,-6.95,96.5,-6.98,96.8],
];
const allContours = [contours1, contours2, contours3, contours4, contours5, contours6, contours7, contours8, contours9, contours10, contours11, contours12];

// Layout boxes: plot left, plot width, bar left, bar width, plot top, plot height
const boxes = [
  [49, 266, 332, 16, 9, 330], [457, 267, 740, 17, 9, 330], [866, 266, 1149, 16, 9, 330],
  [49, 266, 332, 16, 407, 330], [457, 267, 740, 17, 407, 330], [866, 266, 1149, 16, 407, 330],
  [49, 266, 332, 16, 804, 331], [457, 267, 740, 17, 804, 331], [866, 266, 1149, 16, 804, 331],
  [49, 266, 332, 16, 1202, 330], [450, 266, 732, 17, 1202, 330], [850, 267, 1133, 17, 1202, 330],
];

const INK = "#2b2b2b";
const FRAME = "#5f5f5f";
const LEFT_GAP = 44;
const TOP_GAP = 8;
const BOTTOM_GAP = 32;
const RIGHT_GAP = 20;
const BAR_AXIS = 36;

function greensAt(t: number) {
  const p = Math.max(0, Math.min(1, t)) * (greens.length - 1);
  const i = Math.min(Math.floor(p), greens.length - 2);
  const f = p - i;
  const rgb = (h: string) => [1, 3, 5].map((k) => parseInt(h.slice(k, k + 2), 16));
  const a = rgb(greens[i]);
  const b = rgb(greens[i + 1]);
  return `rgb(${a.map((v, k) => Math.round(v + (b[k] - v) * f)).join(",")})`;
}

const contourFill = {
  id: "contourFill",
  beforeDatasetDraw(chart: any, args: any) {
    const ds = chart.data.datasets[args.index];
    const line = args.meta.dataset;
    if (!line) return;
    if (ds.closedLoop) {
      line._loop = true;
      line._fullLoop = true;
    }
    line.updateControlPoints(chart.chartArea, "x");
    const { ctx, chartArea: a } = chart;
    ctx.save();
    ctx.beginPath();
    ctx.rect(a.left, a.top, a.width, a.height);
    ctx.clip();
    ctx.beginPath();
    line.path(ctx);
    ctx.closePath();
    ctx.fillStyle = ds.backgroundColor;
    ctx.fill();
    ctx.restore();
    return false;
  },
};

const panelFrame = {
  id: "panelFrame",
  afterDatasetsDraw(chart: any, _a: any, opts: any) {
    const { ctx, chartArea: a, scales } = chart;
    if (opts.title) {
      ctx.save();
      ctx.font = "20.5px 'Liberation Serif'";
      ctx.fillStyle = "#111";
      ctx.textBaseline = "alphabetic";
      ctx.fillText(opts.title, scales.x.getPixelForValue(-7.73), scales.y.getPixelForValue(88.2));
      ctx.restore();
    }
    ctx.save();
    ctx.strokeStyle = FRAME;
    ctx.lineWidth = 1;
    ctx.strokeRect(a.left, a.top, a.width, a.height);
    ctx.restore();
  },
};

function fmtX(v: number) {
  const s = Math.abs(v).toFixed(2);
  return v < 0 ? "\u2212" + s : s;
}

function plotConfig(i: number): any {
  const bands = bandCounts[i];
  const background = greensAt(0.5 / bands);
  const frameRect = [[-8, 0], [-8, 100], [-6, 100], [-6, 0]];
  const sets: any[] = [
    {
      data: frameRect.map(([x, y]) => ({ x, y })),
      backgroundColor: background,
      borderColor: background,
      closedLoop: false,
      tension: 0,
    },
  ];
  for (const c of allContours[i]) {
    const pts: { x: number; y: number }[] = [];
    for (let k = 1; k < c.length; k += 2) pts.push({ x: c[k], y: c[k + 1] });
    const touches = pts.some((p) => p.x <= -8 || p.x >= -6 || p.y <= 0 || p.y >= 100);
    const col = greensAt((c[0] + 0.5) / bands);
    sets.push({ data: pts, backgroundColor: col, borderColor: col, closedLoop: !touches });
  }
  sets.reverse(); // Chart.js paints the first dataset last
  const isBottom = i >= 9;
  return {
    type: "line",
    data: { datasets: sets },
    options: {
      animation: false,
      responsive: false,
      events: [],
      layout: { padding: { top: TOP_GAP, right: RIGHT_GAP, left: 0, bottom: 0 } },
      elements: { point: { radius: 0 }, line: { tension: 0.4, borderWidth: 0 } },
      plugins: { panelFrame: { title: panelTitles[i] } },
      scales: {
        x: {
          type: "linear",
          min: -8,
          max: -6,
          afterBuildTicks: (s: any) => { s.ticks = xTicks.map((value) => ({ value })); },
          afterFit: (s: any) => { s.height = BOTTOM_GAP; },
          ticks: { color: INK, font: { family: "'DejaVu Sans'", size: 10 }, autoSkip: false, maxRotation: 0, padding: 2, callback: (v: number) => fmtX(v) },
          grid: { drawOnChartArea: false, drawTicks: true, tickLength: 4, color: FRAME },
          border: { color: FRAME },
          title: { display: isBottom, text: "log I([CII])", color: INK, padding: 0, font: { family: "'DejaVu Sans'", size: 11.7 } },
        },
        y: {
          type: "linear",
          min: 0,
          max: 100,
          afterBuildTicks: (s: any) => { s.ticks = yTicks.map((value) => ({ value })); },
          afterFit: (s: any) => { s.width = LEFT_GAP; },
          ticks: { color: INK, font: { family: "'DejaVu Sans'", size: 10 }, padding: 2, callback: (v: number) => String(v) },
          grid: { drawOnChartArea: false, drawTicks: true, tickLength: 4, color: FRAME },
          border: { color: FRAME },
          title: { display: true, text: "f(H2|CO) [%]", color: INK, padding: 0, font: { family: "'DejaVu Sans'", size: 11.7 } },
        },
      },
    },
    plugins: [contourFill, panelFrame],
  };
}

function barConfig(i: number): any {
  const bands = bandCounts[i];
  const step = topLevels[i] / bands;
  const sets = [];
  for (let b = 0; b < bands; b++) {
    sets.push({ data: [step], backgroundColor: greensAt((b + 0.5) / bands), borderWidth: 0, barPercentage: 1, categoryPercentage: 1 });
  }
  return {
    type: "bar",
    data: { labels: ["density"], datasets: sets },
    options: {
      animation: false,
      responsive: false,
      events: [],
      layout: { padding: { top: TOP_GAP, bottom: TOP_GAP, left: 0, right: 0 } },
      plugins: { panelFrame: {} },
      scales: {
        x: { stacked: true, display: false },
        y: {
          stacked: true,
          position: "right",
          min: 0,
          max: topLevels[i],
          afterBuildTicks: (s: any) => { s.ticks = barTicks[i].map((value) => ({ value })); },
          afterFit: (s: any) => { s.width = BAR_AXIS; },
          ticks: { color: INK, font: { family: "'DejaVu Sans'", size: 8.2 }, padding: 2, callback: (v: number) => v.toFixed(barDecimals[i]) },
          grid: { drawOnChartArea: false, drawTicks: true, tickLength: 3, color: FRAME },
          border: { display: false },
        },
      },
    },
    plugins: [panelFrame],
  };
}

function Canvas({ config, style, w, h }: { config: any; style: any; w: number; h: number }) {
  const ref = useRef<HTMLCanvasElement>(null);
  useEffect(() => {
    const chart = new Chart(ref.current as HTMLCanvasElement, config);
    return () => chart.destroy();
  }, []);
  return <canvas ref={ref} width={w} height={h} style={{ position: "absolute", display: "block", ...style }} />;
}

export default function App() {
  return (
    <div style={{ position: "absolute", left: 0, top: 0, width: 1200, height: 1568, background: "#fff", overflow: "hidden" }}>
      {boxes.map(([pl, pw, bl, bw, pt, ph], i) => (
        <React.Fragment key={i}>
          <Canvas
            config={plotConfig(i)}
            w={LEFT_GAP + pw + RIGHT_GAP}
            h={TOP_GAP + ph + BOTTOM_GAP}
            style={{ left: pl - LEFT_GAP, top: pt - TOP_GAP, width: LEFT_GAP + pw + RIGHT_GAP, height: TOP_GAP + ph + BOTTOM_GAP }}
          />
          <Canvas
            config={barConfig(i)}
            w={bw + BAR_AXIS}
            h={ph + 2 * TOP_GAP}
            style={{ left: bl, top: pt - TOP_GAP, width: bw + BAR_AXIS, height: ph + 2 * TOP_GAP }}
          />
        </React.Fragment>
      ))}
    </div>
  );
}
